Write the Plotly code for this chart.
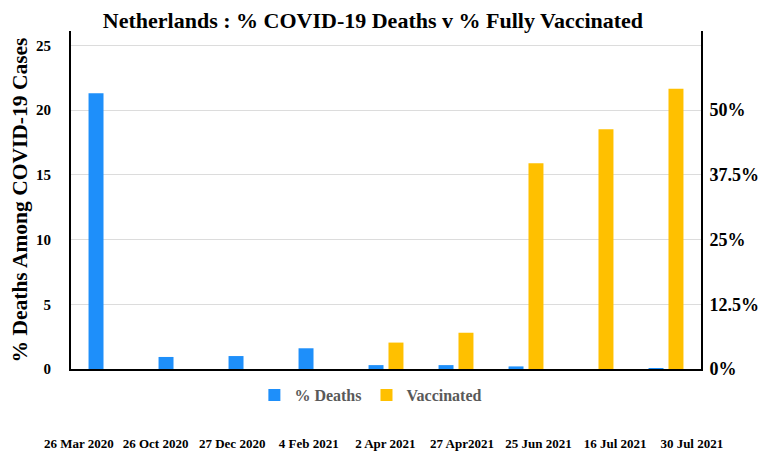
import plotly.graph_objects as go

categories = ["26 Mar 2020", "26 Oct 2020", "27 Dec 2020", "4 Feb 2021", "2 Apr 2021",
              "27 Apr2021", "25 Jun 2021", "16 Jul 2021", "30 Jul 2021"]
deaths_pct = [21.3, 0.93, 1.0, 1.6, 0.3, 0.3, 0.2, 0.0, 0.06]
vaccinated_pct = [0, 0, 0, 0, 5.1, 7.0, 39.7, 46.3, 54.1]
left_ticks = [0, 5, 10, 15, 20, 25]
right_ticks = [0, 12.5, 25, 37.5, 50]
right_tick_text = ["0%", "12.5%", "25%", "37.5%", "50%"]

SERIF = "Liberation Serif"
BLUE = "#1E8FFA"
GOLD = "#FFC000"

n = len(categories)
label_pos = list(range(n))

fig = go.Figure()
fig.add_trace(go.Bar(x=categories, y=deaths_pct, name="% Deaths",
                     marker=dict(color=BLUE, line=dict(width=0)), yaxis="y", offsetgroup="a"))
fig.add_trace(go.Bar(x=categories, y=vaccinated_pct, name="Vaccinated",
                     marker=dict(color=GOLD, line=dict(width=0)), yaxis="y2", offsetgroup="b"))
# invisible helper so the date-label axis is drawn
fig.add_trace(go.Scatter(x=label_pos, y=[0] * n, xaxis="x2", yaxis="y", mode="markers",
                         marker=dict(opacity=0), showlegend=False, hoverinfo="skip"))

fig.update_layout(
    width=758, height=444,
    margin=dict(l=63, r=65, t=23, b=83, autoexpand=False),
    paper_bgcolor="white", plot_bgcolor="rgba(0,0,0,0)",
    barmode="group", bargap=0.43, bargroupgap=0.25,
    title=dict(text="<b>Netherlands : % COVID-19 Deaths v % Fully Vaccinated</b>",
               x=0.4815, xanchor="center", y=0.99, yanchor="top",
               font=dict(family=SERIF, size=22, color="black")),
    xaxis=dict(type="category", categoryarray=categories, showticklabels=False,
               showline=True, linecolor="black", linewidth=2, ticks="",
               showgrid=False, zeroline=False, automargin=False),
    xaxis2=dict(range=[-0.104, 8.12], tickmode="array", tickvals=label_pos,
                ticktext=categories, overlaying="x", anchor="free", position=0, side="bottom",
                showline=False, showgrid=False, zeroline=False, ticks="outside",
                ticklen=62, tickcolor="rgba(0,0,0,0)", automargin=False,
                tickfont=dict(family=SERIF, size=13, color="black", weight="bold")),
    yaxis=dict(range=[0, 26.1], tickvals=left_ticks, showline=True, linecolor="black",
               linewidth=2, showgrid=True, gridcolor="#DCDCDC", gridwidth=1,
               zeroline=False, ticks="outside", ticklen=15, tickcolor="rgba(0,0,0,0)",
               automargin=False,
               tickfont=dict(family=SERIF, size=15, color="black", weight="bold"),
               title=dict(text="<b>% Deaths Among COVID-19 Cases</b>", standoff=8,
                          font=dict(family=SERIF, size=21.5, color="black"))),
    yaxis2=dict(range=[0, 65.25], overlaying="y", side="right", tickvals=right_ticks,
                ticktext=right_tick_text, showline=True, linecolor="black", linewidth=2,
                showgrid=False, zeroline=False, ticks="outside", ticklen=3,
                tickcolor="rgba(0,0,0,0)", automargin=False,
                tickfont=dict(family=SERIF, size=18, color="black", weight="bold")),
    legend=dict(orientation="h", x=0.476, xanchor="center", xref="paper",
                y=0.1284, yanchor="middle", yref="container",
                font=dict(family=SERIF, size=16, color="#595959", weight="bold"),
                itemwidth=30, bgcolor="rgba(0,0,0,0)"),
    showlegend=True,
)

fig.write_html("out.html")
